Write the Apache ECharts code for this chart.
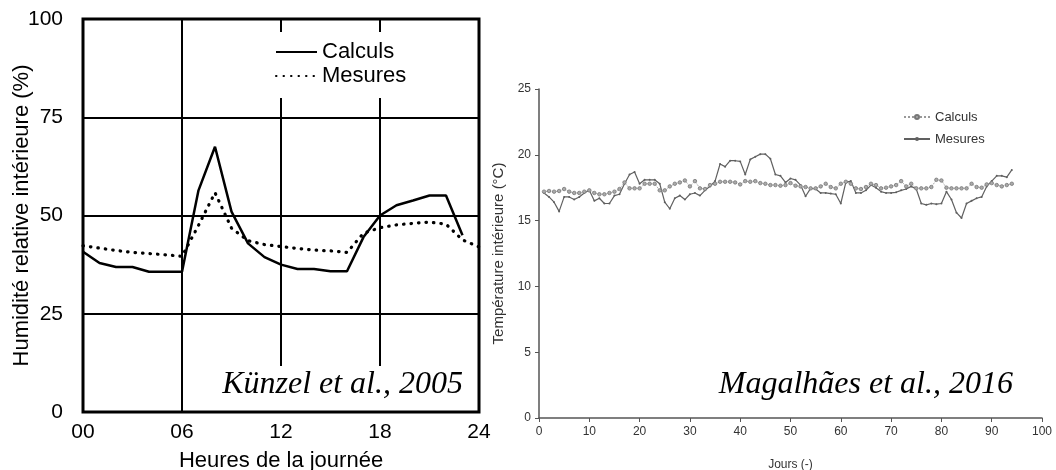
<!DOCTYPE html>
<html><head><meta charset="utf-8">
<script src="https://cdn.jsdelivr.net/npm/echarts@6/dist/echarts.min.js"></script>
<style>html,body{margin:0;padding:0;background:#fff}#c{width:1056px;height:470px}</style>
</head><body><div id="c"></div>
<script>
// Left chart: Künzel et al., 2005 — relative humidity over the day
const hoursCalc = [0,1,2,3,4,5,6,7,8,9,10,11,12,13,14,15,16,17,18,19,20,21,22,23];
const humCalc = [40.8,37.9,36.9,36.9,35.7,35.7,35.7,56.4,67.5,51.0,42.9,39.4,37.5,36.4,36.4,35.8,35.8,44.5,50.0,52.6,53.8,55.1,55.1,45.0];
const hoursMes = [0,1,2,3,4,5,6,7,8,9,10,11,12,13,14,15,16,17,18,19,20,21,22,23,24];
const humMes = [42.3,41.7,41.1,40.6,40.3,40.0,39.6,47.5,55.8,46.8,43.6,42.6,42.1,41.6,41.2,41.0,40.6,45.5,46.9,47.6,48.0,48.3,47.8,43.8,42.0];
const hourTicks = ['00','06','12','18','24'];
const humTicks = [0,25,50,75,100];

// Right chart: Magalhães et al., 2016 — indoor temperature over days
const days = Array.from({length:94},(_,i)=>i+1);
const tempCalc = [17.2,17.25,17.2,17.25,17.4,17.2,17.1,17.1,17.2,17.3,17.1,17.0,17.0,17.1,17.2,17.4,17.9,17.45,17.45,17.45,
17.8,17.8,17.8,17.3,17.3,17.6,17.8,17.9,18.05,17.6,18.0,17.45,17.4,17.7,17.8,17.95,17.95,17.95,17.9,17.75,
18.0,17.95,18.0,17.85,17.8,17.7,17.7,17.65,17.7,17.85,17.65,17.6,17.55,17.45,17.45,17.6,17.8,17.55,17.45,17.8,
17.95,17.8,17.45,17.4,17.55,17.8,17.7,17.45,17.5,17.6,17.7,18.0,17.6,17.8,17.45,17.45,17.45,17.55,18.1,18.05,
17.5,17.45,17.45,17.45,17.45,17.8,17.55,17.5,17.75,17.85,17.7,17.6,17.7,17.8];
const tempMes = [17.1,16.8,16.4,15.7,16.8,16.8,16.6,16.8,17.1,17.3,16.5,16.7,16.3,16.3,16.9,17.0,17.8,18.5,18.7,17.8,
18.1,18.1,18.1,17.8,16.4,15.9,16.7,16.9,16.6,17.0,17.1,16.9,17.3,17.6,18.0,19.3,19.1,19.55,19.55,19.5,
18.5,19.65,19.85,20.05,20.05,19.7,18.5,18.4,17.9,18.2,18.1,17.7,16.85,17.45,17.4,17.1,17.1,17.05,17.0,16.3,
17.9,18.0,17.1,17.1,17.3,17.7,17.5,17.2,17.1,17.1,17.15,17.3,17.4,17.6,17.4,16.3,16.2,16.3,16.25,16.3,
17.2,16.6,15.6,15.2,16.3,16.5,16.7,16.8,17.6,18.0,18.4,18.4,18.3,18.85];
const dayTicks = [0,10,20,30,40,50,60,70,80,90,100];
const tempTicks = [0,5,10,15,20,25];

const pairs = (xs, ys) => xs.map((x,i)=>[x, ys[i]]);
const sans = 'Liberation Sans, Arial, sans-serif';
const citeFont = 'italic 32px "Liberation Serif", "Times New Roman", serif';

const chart = echarts.init(document.getElementById('c'), null, {renderer:'canvas'});
chart.setOption({
  animation: false,
  backgroundColor: '#fff',
  grid: [
    {left:83, top:19, width:396, height:393, show:false, containLabel:false, outerBoundsMode:'none'},
    {left:539, top:89, width:503, height:329, show:false, containLabel:false, outerBoundsMode:'none'}
  ],
  xAxis: [
    {gridIndex:0, type:'value', min:0, max:24, interval:6,
      axisLine:{show:false}, axisTick:{show:false},
      axisLabel:{fontFamily:sans, fontSize:21, color:'#000', margin:10,
        formatter:(v)=>hourTicks[v/6]},
      splitLine:{show:true, lineStyle:{color:'#000', width:2}},
      name:'Heures de la journée', nameLocation:'middle', nameGap:38,
      nameTextStyle:{fontFamily:sans, fontSize:22, color:'#000'}},
    {gridIndex:1, type:'value', min:0, max:100, interval:10,
      axisLine:{show:true, lineStyle:{color:'#555', width:1.5}},
      axisTick:{show:true, inside:false, length:4, lineStyle:{color:'#555'}},
      axisLabel:{fontFamily:sans, fontSize:12, color:'#333', margin:8,
        formatter:(v)=>String(dayTicks[dayTicks.indexOf(v)])},
      splitLine:{show:false},
      name:'Jours (-)', nameLocation:'middle', nameGap:41,
      nameTextStyle:{fontFamily:sans, fontSize:12, color:'#333'}}
  ],
  yAxis: [
    {gridIndex:0, type:'value', min:0, max:100, interval:25,
      axisLine:{show:false}, axisTick:{show:false},
      axisLabel:{fontFamily:sans, fontSize:21, color:'#000', margin:20,
        formatter:(v)=>String(humTicks[humTicks.indexOf(v)])},
      splitLine:{show:true, lineStyle:{color:'#000', width:2}},
      name:'Humidité relative intérieure (%)', nameLocation:'middle', nameGap:50, nameRotate:90,
      nameMoveOverlap:false,
      nameTextStyle:{fontFamily:sans, fontSize:22, color:'#000'}},
    {gridIndex:1, type:'value', min:0, max:25, interval:5,
      axisLine:{show:true, lineStyle:{color:'#555', width:1.5}},
      axisTick:{show:true, inside:false, length:4, lineStyle:{color:'#555'}},
      axisLabel:{fontFamily:sans, fontSize:12, color:'#333', margin:8,
        formatter:(v)=>String(tempTicks[tempTicks.indexOf(v)])},
      splitLine:{show:false},
      name:'Température intérieure (°C)', nameLocation:'middle', nameGap:33, nameRotate:90,
      nameTextStyle:{fontFamily:sans, fontSize:15, color:'#333'}}
  ],
  legend: [
    {orient:'vertical', left:270, top:32, padding:[9,14,11,5], backgroundColor:'#fff',
      itemWidth:41, itemHeight:14, itemGap:2,
      itemStyle:{opacity:0},
      textStyle:{fontFamily:sans, fontSize:22, lineHeight:22, color:'#000'},
      data:['Calculs','Mesures'], selectedMode:false, z:10},
    {orient:'vertical', left:903, top:110, padding:0,
      itemWidth:26, itemHeight:5, itemGap:8,
      textStyle:{fontFamily:sans, fontSize:13, lineHeight:14, color:'#333'},
      data:['Calculs ','Mesures '], selectedMode:false}
  ],
  series: [
    {name:'Calculs', type:'line', xAxisIndex:0, yAxisIndex:0, data:pairs(hoursCalc, humCalc),
      symbol:'none', lineStyle:{color:'#000', width:2.5}, itemStyle:{color:'#000'}, z:3},
    {name:'Mesures', type:'line', xAxisIndex:0, yAxisIndex:0, data:pairs(hoursMes, humMes),
      symbol:'none', lineStyle:{color:'#000', width:3.2, type:[0.5,7], cap:'round'}, itemStyle:{color:'#000'}, z:3},
    {name:'Calculs ', type:'line', xAxisIndex:1, yAxisIndex:1, data:pairs(days, tempCalc),
      symbol:'circle', symbolSize:3.5, showSymbol:true,
      lineStyle:{color:'#999', width:1, type:'dotted'},
      itemStyle:{color:'#aaa', borderColor:'#777', borderWidth:0.8}, z:3},
    {name:'Mesures ', type:'line', xAxisIndex:1, yAxisIndex:1, data:pairs(days, tempMes),
      symbol:'circle', symbolSize:2, showSymbol:true,
      lineStyle:{color:'#606060', width:1.2},
      itemStyle:{color:'#606060'}, z:2}
  ],
  graphic: [
    {type:'rect', shape:{x:223, y:366, width:255, height:45}, style:{fill:'#fff'}, z:50, silent:true},
    {type:'rect', shape:{x:83, y:19, width:396, height:393}, style:{fill:null, stroke:'#000', lineWidth:3}, z:60, silent:true},
    {type:'text', x:463, y:385, z:61, silent:true,
      style:{text:'Künzel et al., 2005', fill:'#000', font:citeFont, textAlign:'right', textVerticalAlign:'middle'}},
    {type:'text', x:1013, y:385, z:61, silent:true,
      style:{text:'Magalhães et al., 2016', fill:'#000', font:citeFont, textAlign:'right', textVerticalAlign:'middle'}}
  ]
});
</script></body></html>
